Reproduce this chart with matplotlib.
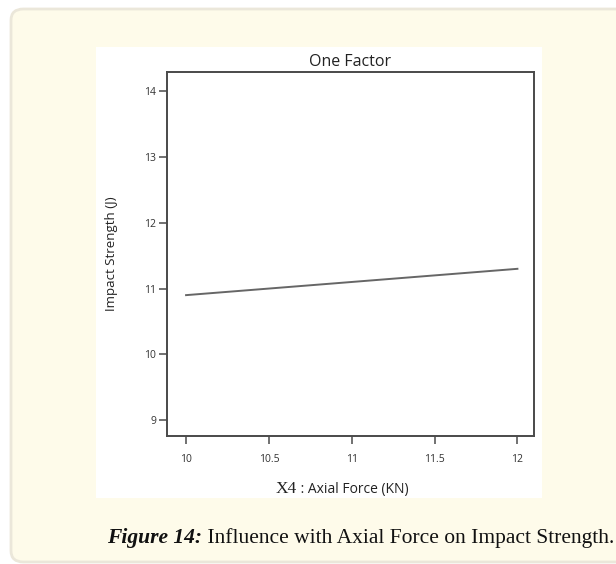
import matplotlib
matplotlib.use("Agg")
import matplotlib.pyplot as plt
from matplotlib.patches import FancyBboxPatch, Rectangle

# data
axial_force = [10, 12]
impact_strength = [10.9, 11.3]
x_ticks = [10, 10.5, 11, 11.5, 12]
x_tick_labels = ["10", "10.5", "11", "11.5", "12"]
y_ticks = [9, 10, 11, 12, 13, 14]

SANS = "Open Sans"
SERIF = "Liberation Serif"
CREAM = "#fefbea"
SPINE = "#4a4a4a"

fig = plt.figure(figsize=(6.16, 5.64), dpi=100)
fig.patch.set_facecolor("white")

# cream page box with a light rounded border
page = FancyBboxPatch((11 / 616, 2 / 564), 640 / 616, 553 / 564,
                      boxstyle="round,pad=0,rounding_size=0.02",
                      transform=fig.transFigure, facecolor=CREAM,
                      edgecolor="#ebe7da", linewidth=2.0, zorder=0)
fig.patches.append(page)

# white image panel
panel = Rectangle((96 / 616, 1 - 498 / 564), 446 / 616, 451 / 564,
                  transform=fig.transFigure, facecolor="white",
                  edgecolor="none", zorder=1)
fig.patches.append(panel)

ax = fig.add_axes([167 / 616, 1 - 436 / 564, 367 / 616, 364 / 564])
ax.set_zorder(3)
ax.set_facecolor("white")
ax.plot(axial_force, impact_strength, color="#666666", linewidth=1.4)

ax.set_xlim(9.885, 12.10)
ax.set_ylim(8.76, 14.29)
ax.set_xticks(x_ticks)
ax.set_xticklabels(x_tick_labels)
ax.set_yticks(y_ticks)

for side in ax.spines.values():
    side.set_color(SPINE)
    side.set_linewidth(1.4)

ax.tick_params(axis="both", direction="out", length=6, width=1.1,
               color=SPINE, labelsize=7.5, labelcolor="#333333", pad=2)
ax.tick_params(axis="x", pad=7)
for lbl in ax.get_xticklabels() + ax.get_yticklabels():
    lbl.set_fontfamily(SANS)

ax.set_title("One Factor", fontsize=11.5, family=SANS, color="#222222", pad=4)
ax.set_ylabel("Impact Strength (J)", fontsize=9.5, family=SANS,
              color="#222222", labelpad=19)

# x label: serif "X4" followed by sans text
xl1 = fig.text(297 / 616, 1 - 493 / 564, "X4", family=SERIF, fontsize=12.5,
               color="#222222", ha="right", va="baseline", zorder=4)
ax.annotate(" : Axial Force (KN)", xy=(1, 0), xycoords=xl1,
            va="bottom", ha="left", fontsize=10, family=SANS, color="#222222",
            annotation_clip=False)

# caption
cap1 = fig.text(107 / 616, 1 - 543 / 564, "Figure 14:", family=SERIF,
                fontsize=15.5, fontweight="bold", fontstyle="italic",
                color="#111111", va="baseline", zorder=4)
ax.annotate(" Influence with Axial Force on Impact Strength.", xy=(1, 0),
            xycoords=cap1, va="bottom", ha="left", family=SERIF,
            fontsize=15.5, color="#111111", annotation_clip=False)

fig.savefig("out.png", dpi=100, facecolor=fig.get_facecolor())
